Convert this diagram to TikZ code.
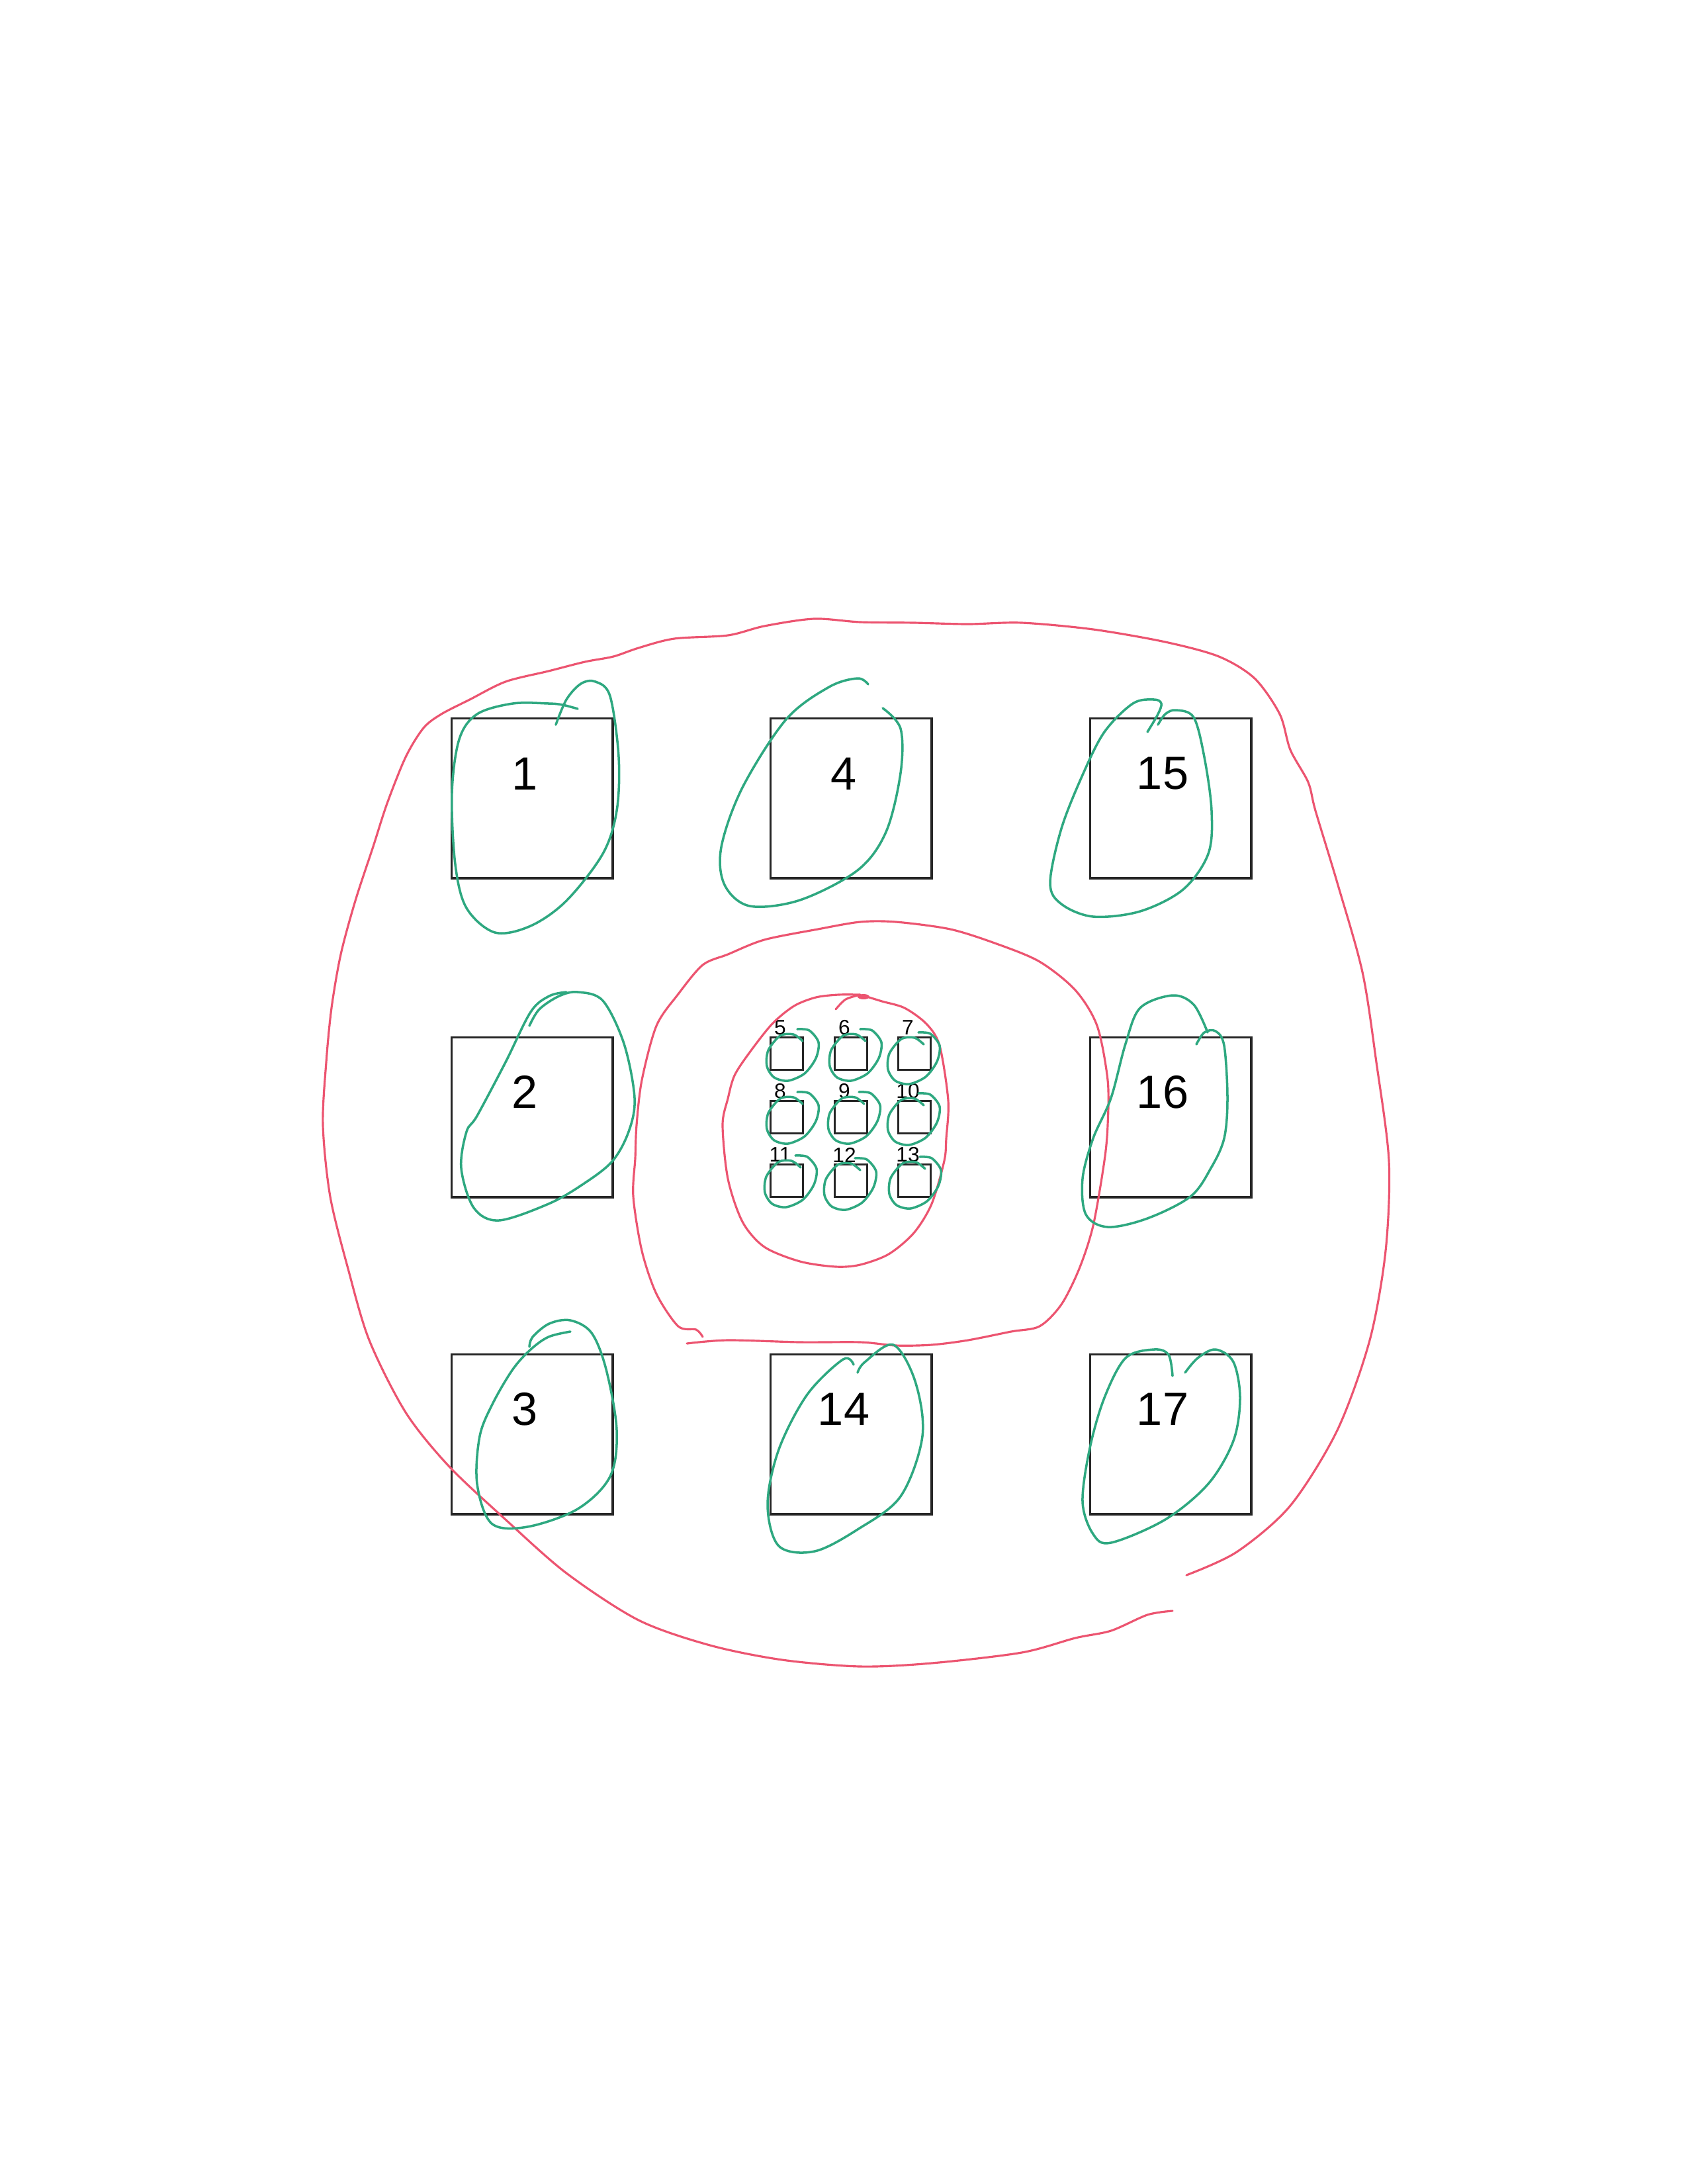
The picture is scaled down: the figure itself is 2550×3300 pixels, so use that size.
\documentclass[tikz,border=0pt]{standalone}
\usepackage{fontspec}
\setmainfont{Liberation Sans}
\definecolor{penred}{RGB}{236,84,112}
\definecolor{pengreen}{RGB}{46,168,128}
\newcommand{\gloop}[2]{\draw[greenpen] plot[smooth] coordinates {({#1+18},{#2-22}) ({#1+4},{#2-32}) ({#1-16},{#2-30}) ({#1-34},{#2-8}) ({#1-36},{#2+16}) ({#1-25},{#2+33}) ({#1-4},{#2+38}) ({#1+21},{#2+27}) ({#1+38},{#2+4}) ({#1+42},{#2-20}) ({#1+28},{#2-38}) ({#1+10},{#2-40})};}
\begin{document}
\begin{tikzpicture}[x=0.01cm,y=-0.01cm,
 bigbox/.style={draw=black!85,line width=1.1pt,minimum width=2.43cm,minimum height=2.41cm,inner sep=0pt},
 smallbox/.style={draw=black!85,line width=1pt,minimum size=0.49cm,inner sep=0pt},
 biglabel/.style={font=\fontsize{20}{24}\selectfont,inner sep=0pt},
 smalllabel/.style={font=\fontsize{9}{11}\selectfont,inner sep=0pt},
 redpen/.style={draw=penred,line width=0.9pt,line cap=round,line join=round},
 greenpen/.style={draw=pengreen,line width=1pt,line cap=round,line join=round}]
\useasboundingbox[fill=white] (0,0) rectangle (2550,3300);

% big squares
\node[bigbox] (b1) at (804,1206) {};
\node[bigbox] (b4) at (1286,1206) {};
\node[bigbox] (b15) at (1769,1206) {};
\node[bigbox] (b2) at (804,1688) {};
\node[bigbox] (b16) at (1769,1688) {};
\node[bigbox] (b3) at (804,2167) {};
\node[bigbox] (b14) at (1286,2167) {};
\node[bigbox] (b17) at (1769,2167) {};
\node[biglabel] (l1) at (793,1169) {1};
\node[biglabel] (l4) at (1275,1169) {4};
\node[biglabel] (l15) at (1757,1169) {15};
\node[biglabel] (l2) at (793,1650) {2};
\node[biglabel] (l16) at (1757,1650) {16};
\node[biglabel] (l3) at (793,2129) {3};
\node[biglabel] (l14) at (1275,2129) {14};
\node[biglabel] (l17) at (1757,2129) {17};

% small squares
\node[smallbox] (s5) at (1189,1592) {};
\node[smallbox] (s6) at (1286,1592) {};
\node[smallbox] (s7) at (1382,1592) {};
\node[smallbox] (s8) at (1189,1688) {};
\node[smallbox] (s9) at (1286,1688) {};
\node[smallbox] (s10) at (1382,1688) {};
\node[smallbox] (s11) at (1189,1784) {};
\node[smallbox] (s12) at (1286,1784) {};
\node[smallbox] (s13) at (1382,1784) {};
\node[smalllabel] (t5) at (1179,1553) {5};
\node[smalllabel] (t6) at (1276,1553) {6};
\node[smalllabel] (t7) at (1372,1553) {7};
\node[smalllabel] (t8) at (1179,1649) {8};
\node[smalllabel] (t9) at (1276,1649) {9};
\node[smalllabel] (t10) at (1372,1649) {10};
\node[smalllabel] (t11) at (1179,1745) {11};
\node[smalllabel] (t12) at (1276,1745) {12};
\node[smalllabel] (t13) at (1372,1745) {13};

% red outer curve
\draw[redpen] plot[smooth,tension=0.5] coordinates {(1793,2380) (1869,2345) (1950,2275) (2021,2161) (2070,2025) (2094,1890) (2099,1754) (2080,1605) (2059,1469) (2021,1334) (1988,1225) (1977,1182) (1950,1133) (1934,1079) (1896,1025) (1842,992) (1761,970) (1652,951) (1544,941) (1463,943) (1381,941) (1300,940) (1230,935) (1155,946) (1100,960) (1019,965) (965,979) (927,992) (884,1000) (829,1014) (764,1030) (710,1057) (667,1079) (640,1100) (613,1144) (585,1214) (564,1279) (537,1361) (515,1442) (501,1523) (493,1605) (488,1700) (499,1808) (526,1917) (558,2025) (613,2134) (678,2215) (764,2296) (856,2377) (965,2448) (1073,2486) (1182,2508) (1300,2518) (1408,2513) (1544,2497) (1625,2475) (1679,2464) (1734,2440) (1772,2434)};
% red middle curve
\draw[redpen] plot[smooth,tension=0.5] coordinates {(1062,2020) (1052,2009) (1025,2004) (992,1955) (970,1890) (957,1808) (960,1750) (962,1700) (970,1632) (992,1550) (1025,1502) (1062,1458) (1100,1442) (1155,1420) (1236,1404) (1300,1393) (1354,1393) (1436,1404) (1506,1426) (1571,1453) (1625,1496) (1658,1550) (1674,1632) (1674,1700) (1669,1754) (1652,1852) (1631,1917) (1604,1971) (1571,2004) (1528,2012) (1463,2025) (1408,2032) (1354,2033) (1300,2028) (1209,2028) (1100,2025) (1038,2030)};
% red inner curve
\draw[redpen] plot[smooth,tension=0.5] coordinates {(1307,1505) (1333,1513) (1367,1523) (1400,1547) (1420,1580) (1433,1663) (1430,1720) (1427,1754) (1408,1819) (1381,1863) (1343,1895) (1300,1911) (1263,1914) (1209,1906) (1155,1884) (1122,1846) (1100,1781) (1092,1700) (1100,1660) (1110,1625) (1133,1590) (1167,1547) (1200,1520) (1233,1507) (1267,1503) (1300,1503)};
\draw[redpen] plot[smooth] coordinates {(1263,1525) (1278,1510) (1300,1503)};
\fill[penred] (1305,1506) ellipse (9 and 4);

% green loops around big squares
\draw[greenpen] plot[smooth,tension=0.55] coordinates {(873,1071) (850,1065) (829,1063) (775,1063) (721,1079) (694,1117) (683,1198) (688,1306) (705,1372) (748,1409) (802,1399) (856,1361) (911,1290) (932,1225) (935,1144) (922,1052) (900,1030) (878,1033) (856,1057) (840,1095)};
\draw[greenpen] plot[smooth,tension=0.55] coordinates {(1312,1034) (1296,1025) (1253,1038) (1188,1087) (1122,1190) (1090,1280) (1095,1337) (1133,1369) (1209,1360) (1296,1315) (1339,1257) (1361,1168) (1361,1101) (1334,1070)};
\draw[greenpen] plot[smooth,tension=0.55] coordinates {(1734,1106) (1750,1079) (1755,1063) (1744,1057) (1712,1063) (1669,1106) (1636,1171) (1604,1252) (1587,1334) (1604,1366) (1652,1385) (1723,1377) (1788,1344) (1826,1290) (1831,1225) (1820,1144) (1804,1084) (1777,1073) (1761,1079) (1750,1095)};
\draw[greenpen] plot[smooth,tension=0.55] coordinates {(800,1550) (815,1525) (845,1505) (873,1499) (911,1512) (943,1577) (959,1659) (950,1710) (925,1755) (880,1790) (829,1819) (754,1844) (716,1825) (697,1765) (705,1710) (721,1686) (764,1605) (802,1529) (830,1505) (856,1499)};
\draw[greenpen] plot[smooth,tension=0.55] coordinates {(862,2012) (829,2020) (802,2039) (775,2069) (745,2120) (725,2170) (721,2242) (743,2302) (797,2307) (873,2280) (922,2231) (932,2161) (916,2069) (894,2014) (862,1995) (830,2000) (805,2020) (800,2035)};
\draw[greenpen] plot[smooth,tension=0.55] coordinates {(1296,2074) (1307,2058) (1350,2032) (1383,2087) (1394,2170) (1361,2261) (1296,2311) (1231,2344) (1177,2336) (1160,2273) (1177,2190) (1220,2107) (1274,2054) (1290,2062)};
\draw[greenpen] plot[smooth,tension=0.55] coordinates {(1808,1578) (1820,1560) (1837,1558) (1850,1580) (1855,1659) (1850,1720) (1830,1765) (1799,1808) (1734,1841) (1674,1854) (1641,1835) (1636,1781) (1652,1720) (1679,1659) (1701,1577) (1723,1523) (1772,1504) (1804,1518) (1825,1560)};
\draw[greenpen] plot[smooth,tension=0.55] coordinates {(1772,2079) (1766,2047) (1744,2039) (1701,2052) (1669,2112) (1647,2188) (1636,2269) (1652,2318) (1679,2331) (1761,2296) (1826,2242) (1864,2177) (1874,2112) (1864,2058) (1837,2039) (1810,2052) (1791,2074)};

% green loops around small squares
\gloop{1195}{1595}
\gloop{1290}{1595}
\gloop{1378}{1600}
\gloop{1195}{1690}
\gloop{1288}{1690}
\gloop{1378}{1692}
\gloop{1192}{1786}
\gloop{1282}{1790}
\gloop{1380}{1788}
\end{tikzpicture}
\end{document}
